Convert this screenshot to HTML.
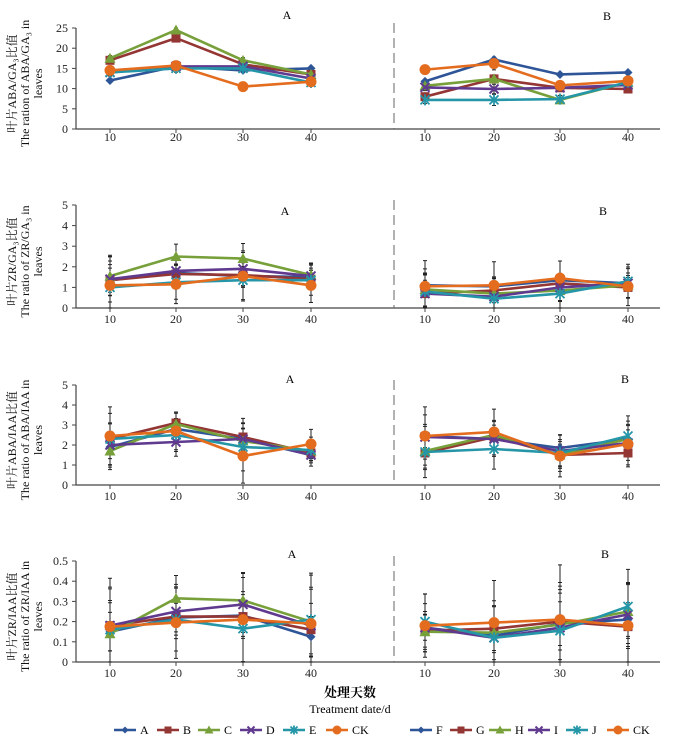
<!DOCTYPE html>
<html><head><meta charset="utf-8"><style>
html,body{margin:0;padding:0;background:#fff;}
svg{display:block;font-family:"Liberation Serif","Noto Serif CJK SC",serif;}
</style></head><body>
<svg id="chart" width="700" height="741" viewBox="0 0 700 741"></svg>
<script>
const days = [10, 20, 30, 40];
const seriesNamesA = ["A","B","C","D","E","CK"];
const seriesNamesB = ["F","G","H","I","J","CK"];
const colors = ["#2e5597","#943634","#77a03a","#5f3a8f","#2596a8","#e46c1f"];
const markers = ["diamond","square","triangle","x","star","circle"];

// Panel 1: ABA/GA3
const p1A = [[12,15.5,14.5,15],[17,22.5,16,13.5],[17.5,24.5,17,13.5],[14,15.5,15.5,12.5],[14,15,15,11.5],[14.5,15.7,10.5,11.7]];
const p1B = [[11.8,17.2,13.5,14],[8,12.4,10.2,9.9],[10.7,12.4,7.2,11.6],[10.3,9.9,10.2,10.9],[7.2,7.2,7.4,11.6],[14.7,16.2,10.8,11.9]];
const p1ErrA = [1,1,1,1];
const p1ErrB = [1,1.5,1,1];
// Panel 2: ZR/GA3
const p2A = [[1.35,1.7,1.55,1.5],[1.35,1.65,1.6,1.4],[1.55,2.5,2.4,1.6],[1.4,1.8,1.9,1.55],[1.0,1.25,1.35,1.35],[1.1,1.15,1.55,1.1]];
const p2B = [[1.1,1.05,1.35,1.2],[0.7,0.85,1.2,1.0],[0.9,0.7,0.85,1.1],[0.7,0.55,1.0,1.2],[0.8,0.45,0.7,1.3],[1.05,1.1,1.45,1.05]];
const p2ErrA = [1.4,0.9,1.1,0.8];
const p2ErrB = [1.2,1.1,0.8,0.9];
// Panel 3: ABA/IAA
const p3A = [[1.9,2.8,2.3,1.5],[2.3,3.1,2.4,1.6],[1.7,3.05,2.2,1.7],[2.0,2.15,2.3,1.5],[2.3,2.5,1.9,1.75],[2.45,2.7,1.45,2.05]];
const p3B = [[2.45,2.3,1.85,2.3],[1.6,2.4,1.5,1.6],[1.7,2.5,1.5,2.3],[2.4,2.3,1.7,2.1],[1.65,1.8,1.6,2.45],[2.45,2.65,1.45,2.05]];
const p3ErrA = [1.4,0.9,1.3,0.7];
const p3ErrB = [1.4,1.1,1.0,1.1];
// Panel 4: ZR/IAA
const p4A = [[0.15,0.22,0.23,0.125],[0.18,0.225,0.225,0.16],[0.14,0.315,0.305,0.2],[0.18,0.25,0.285,0.18],[0.16,0.21,0.165,0.21],[0.175,0.195,0.21,0.19]];
const p4B = [[0.17,0.13,0.19,0.21],[0.155,0.165,0.2,0.175],[0.15,0.145,0.185,0.25],[0.17,0.12,0.17,0.235],[0.2,0.12,0.155,0.275],[0.18,0.195,0.21,0.18]];
const p4ErrA = [0.23,0.17,0.2,0.24];
const p4ErrB = [0.15,0.2,0.26,0.2];

const ticks1 = [0,5,10,15,20,25];
const ticks2 = [0,1,2,3,4,5];
const ticks3 = [0,1,2,3,4,5];
const ticks4 = ["0","0.1","0.2","0.3","0.4","0.5"];

const svg = document.getElementById('chart');
const NS = "http://www.w3.org/2000/svg";
function mk(tag, attrs, parent){const e=document.createElementNS(NS,tag);for(const k in attrs)e.setAttribute(k,attrs[k]);(parent||svg).appendChild(e);return e;}

const xA = [110,176,243,311], xB = [425,494,560,628];
function xScale(group, i){ return (group===0?xA:xB)[i]; }

const panels = [
 {y0:129,y1:28,max:25,ticks:ticks1,A:p1A,B:p1B,eA:p1ErrA,eB:p1ErrB,labY:141,cn:"叶片ABA/GA₃比值",en:"The ration of ABA/GA₃ in",lA:[287,19],lB:[607,20]},
 {y0:308,y1:205,max:5,ticks:ticks2,A:p2A,B:p2B,eA:p2ErrA,eB:p2ErrB,labY:323,cn:"叶片ZR/GA₃比值",en:"The ratio of ZR/GA₃ in",lA:[285,215],lB:[603,215]},
 {y0:485,y1:385,max:5,ticks:ticks3,A:p3A,B:p3B,eA:p3ErrA,eB:p3ErrB,labY:500,cn:"叶片ABA/IAA比值",en:"The ratio of ABA/IAA in",lA:[290,383],lB:[625,383]},
 {y0:662,y1:561,max:0.5,ticks:ticks4,A:p4A,B:p4B,eA:p4ErrA,eB:p4ErrB,labY:677,cn:"叶片ZR/IAA比值",en:"The ratio of ZR/IAA in",lA:[292,558],lB:[605,558]}
];

function marker(g, type, x, y, c, r){
  r = r || 4.5;
  if(type==="diamond") mk('polygon',{points:`${x},${y-r} ${x+r},${y} ${x},${y+r} ${x-r},${y}`,fill:c},g);
  else if(type==="square") mk('rect',{x:x-r,y:y-r,width:2*r,height:2*r,fill:c},g);
  else if(type==="triangle") mk('polygon',{points:`${x},${y-r-1} ${x+r+1},${y+r} ${x-r-1},${y+r}`,fill:c},g);
  else if(type==="x"){ mk('path',{d:`M${x-r},${y-r}L${x+r},${y+r}M${x+r},${y-r}L${x-r},${y+r}`,stroke:c,'stroke-width':2},g);}
  else if(type==="star"){ mk('path',{d:`M${x-r},${y-r}L${x+r},${y+r}M${x+r},${y-r}L${x-r},${y+r}M${x},${y-r-1}L${x},${y+r+1}`,stroke:c,'stroke-width':1.8},g);}
  else mk('circle',{cx:x,cy:y,r:r+1,fill:c},g);
}

panels.forEach((p,pi)=>{
  const g = mk('g',{});
  
  
  const yS = v => p.y0 - (v/p.max)*(p.y0-p.y1);
  const ya = mk('line',{x1:76,y1:p.y1,x2:76,y2:p.y0,stroke:'#444','stroke-width':1.2},g);
  
  
  p.ticks.forEach((t,i)=>{
    const y = yS(parseFloat(t));
    mk('line',{x1:72,y1:y,x2:76,y2:y,stroke:'#444','stroke-width':1},g);
    const tx = mk('text',{x:68,y:y+4,'text-anchor':'end','font-size':12,fill:'#222'},g);
    tx.textContent = t;
    
    
  });
  const xa = mk('line',{x1:76,y1:p.y0,x2:660,y2:p.y0,stroke:'#444','stroke-width':1.2},g);
  
  
  [xA,xB].forEach(arr=>arr.forEach((x,i)=>{
    mk('line',{x1:x,y1:p.y0,x2:x,y2:p.y0+4,stroke:'#444','stroke-width':1},g);
    const tx = mk('text',{x:x,y:p.labY,'text-anchor':'middle','font-size':12,fill:'#222'},g);
    tx.textContent = days[i];
    
    
  }));
  const dv = mk('line',{x1:394,y1:p.y1-5,x2:394,y2:p.y0,stroke:'#666','stroke-width':1,'stroke-dasharray':'10,5'},g);
  
  
  const la = mk('text',{x:p.lA[0],y:p.lA[1],'text-anchor':'middle','font-size':12},g); la.textContent='A';
  
  
  const lb = mk('text',{x:p.lB[0],y:p.lB[1],'text-anchor':'middle','font-size':12},g); lb.textContent='B';
  
  
  const cy = (p.y0+p.y1)/2+5;
  const tt = mk('text',{transform:`translate(0,${cy}) rotate(-90)`,'text-anchor':'middle','font-size':12,fill:'#111'},g);
  
  
  [[p.cn,16],[p.en,29],["leaves",42]].forEach(([s,x])=>{const ts=mk('tspan',{x:0,y:x},tt);ts.textContent=s;});
  [[p.A,p.eA,seriesNamesA],[p.B,p.eB,seriesNamesB]].forEach(([data,err,names],gi)=>{
    data.forEach((vals,si)=>{
      vals.forEach((v,i)=>{
        const x=xScale(gi,i), e=err[i]*(0.5+0.15*si)/1.2;
        const lo=yS(Math.max(0,v-e)), hi=yS(Math.min(p.max,v+e));
        const eb = mk('path',{d:`M${x},${lo}L${x},${hi}M${x-2},${lo}L${x+2},${lo}M${x-2},${hi}L${x+2},${hi}`,stroke:'#222','stroke-width':1},g);
        
        
      });
    });
    data.forEach((vals,si)=>{
      const sg = mk('g',{},g);
      
      
      const pts = vals.map((v,i)=>xScale(gi,i)+','+yS(v)).join(' ');
      mk('polyline',{points:pts,fill:'none',stroke:colors[si],'stroke-width':2.6},sg);
      vals.forEach((v,i)=>marker(sg,markers[si],xScale(gi,i),yS(v),colors[si]));
    });
  });
});

const xt1 = mk('text',{x:350,y:697,'text-anchor':'middle','font-size':13,'font-weight':'bold'}); xt1.textContent='处理天数';


const xt2 = mk('text',{x:350,y:713,'text-anchor':'middle','font-size':12}); xt2.textContent='Treatment date/d';



const legX = [114,157,198,240,283,326,410,450,489,528,566,607];
const legNames = seriesNamesA.concat(seriesNamesB);
legNames.forEach((n,i)=>{
  const si=i%6, x=legX[i], y=730;
  const lg = mk('g',{});
  
  
  mk('line',{x1:x,y1:y,x2:x+22,y2:y,stroke:colors[si],'stroke-width':2.6},lg);
  marker(lg,markers[si],x+11,y,colors[si],3.5);
  const t = mk('text',{x:x+26,y:y+4,'font-size':12},lg); t.textContent=n;
});
</script>
</body></html>
